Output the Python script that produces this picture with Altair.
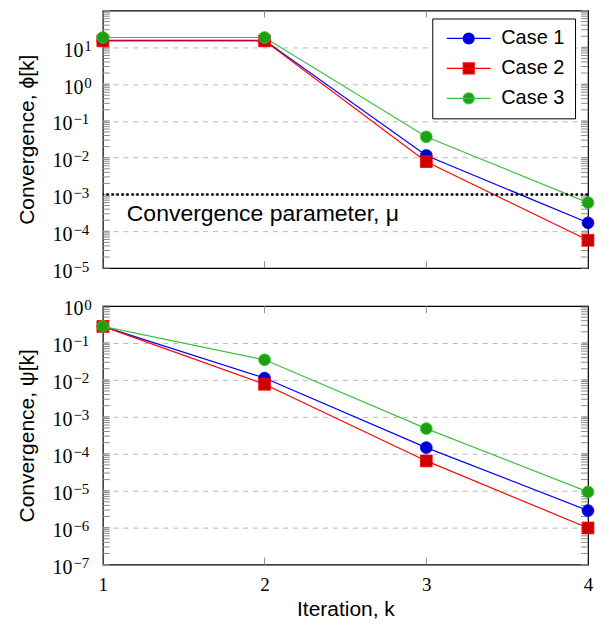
import json
import altair as alt
import pandas as pd

# ---------------- data ----------------
iterations = [1, 2, 3, 4]
cases = ["Case 1", "Case 2", "Case 3"]

phi_case1 = [15.5, 15.5, 1.15e-2, 1.7e-4]
phi_case2 = [15.0, 15.0, 7.8e-3, 5.7e-5]
phi_case3 = [18.5, 18.5, 3.7e-2, 6.0e-4]

psi_case1 = [0.28, 1.12e-2, 1.47e-4, 2.9e-6]
psi_case2 = [0.28, 7.6e-3, 6.4e-5, 9.8e-7]
psi_case3 = [0.28, 3.5e-2, 4.8e-4, 9.3e-6]

mu = [1e-3]
mu_label = ["Convergence parameter, μ"]
mu_label_y = [3e-4]

x_tick_labels = [1, 2, 3, 4]
x_inner_ticks = [2, 3]
phi_exponents = [-5, -4, -3, -2, -1, 0, 1]
psi_exponents = [-7, -6, -5, -4, -3, -2, -1, 0]

# ---------------- style ----------------
line_colors = ["#0000ff", "#ff0000", "#3cc03c"]
marker_colors = ["#0000cc", "#cc0000", "#1fa010"]
marker_shapes = ["circle", "square", "circle"]
legend_shapes = [
    "M-1,0H7M2,0A1,1,0,1,0,4,0A1,1,0,1,0,2,0Z",
    "M-1,0H7M2,-1H4V1H2Z",
    "M-1,0H7M2,0A1,1,0,1,0,4,0A1,1,0,1,0,2,0Z",
]

W = 486
H1 = 258
H2 = 259

all_exps = list(range(-7, 3))
exp_list = [str(e).replace("-", "\u2212") for e in all_exps]
exp_expr = json.dumps(exp_list, ensure_ascii=False) + "[round(log(datum.value)/LN10)+7]"


def long_df(series):
    rows = []
    for case, vals in zip(cases, series):
        for k, v in zip(iterations, vals):
            rows.append({"k": k, "v": v, "case": case})
    return pd.DataFrame(rows)


def minor_ticks(lo, hi):
    vals = []
    for e in range(lo, hi):
        for m in range(1, 10):
            vals.append(m * 10.0 ** e)
    vals.append(10.0 ** hi)
    return vals


def panel(series, lo, hi, label_exps, y_title, height, bottom_axis, with_legend, with_mu):
    df = long_df(series)
    x_scale = alt.Scale(domain=[1, 4], nice=False, zero=False)
    y_scale = alt.Scale(type="log", domain=[10.0 ** lo, 10.0 ** hi], nice=False)
    tick_values = [10.0 ** e for e in label_exps]

    if bottom_axis:
        x_axis = alt.Axis(
            values=x_tick_labels, format="d", labelFont="Liberation Serif",
            labelFontSize=19, labelColor="black", labelPadding=11, labelFlush=False,
            ticks=False, domain=False, grid=False, title="Iteration, k",
            titleFont="Liberation Sans", titleFontSize=21, titleFontWeight="normal",
            titleColor="black", titlePadding=4,
        )
    else:
        x_axis = None

    base_axis = alt.Axis(
        orient="left", values=tick_values, labelExpr="'10'",
        labelFont="Liberation Serif", labelFontSize=20, labelColor="black",
        labelAlign="right", labelBaseline="alphabetic", labelOffset=9,
        labelPadding={"condition": {"test": "datum.value < 0.5", "value": 31}, "value": 20},
        ticks=False, domain=False, grid=True,
        gridColor="#b8b8b8", gridDash=[5, 5], gridWidth=1,
        gridOpacity={"condition": {"test": f"datum.value < {10.0 ** lo * 1.01} || datum.value > {10.0 ** hi * 0.99}", "value": 0}, "value": 1},
        title=y_title, titleFont="Liberation Sans", titleFontSize=21,
        titleFontWeight="normal", titleColor="black", titlePadding=14,
    )
    exp_axis = alt.Axis(
        orient="left", values=tick_values, labelExpr=exp_expr,
        labelFont="Liberation Serif", labelFontSize=15, labelColor="black",
        labelAlign="left", labelBaseline="alphabetic", labelOffset=3,
        labelPadding={"condition": {"test": "datum.value < 0.5", "value": 30}, "value": 19},
        ticks=False, domain=False, grid=False, title=None,
    )

    def X(field):
        return alt.X(field, scale=x_scale, axis=x_axis, title=None if x_axis is None else "Iteration, k")

    def Y(field, axis=None, title=None):
        return alt.Y(field, scale=y_scale, axis=axis, title=title)

    lines = alt.Chart(df).mark_line(strokeWidth=1.2).encode(
        x=X("k:Q"), y=Y("v:Q", base_axis, y_title),
        stroke=alt.Stroke("case:N", scale=alt.Scale(domain=cases, range=line_colors), legend=None),
    )

    tick_df = pd.DataFrame({"t": minor_ticks(lo, hi)})
    ytick_l = alt.Chart(tick_df).mark_rule(color="#8a8a8a", strokeWidth=1).encode(
        y=Y("t:Q"), x=alt.value(0), x2=alt.value(7))
    ytick_r = alt.Chart(tick_df).mark_rule(color="#8a8a8a", strokeWidth=1).encode(
        y=Y("t:Q"), x=alt.value(W - 7), x2=alt.value(W))
    xt_df = pd.DataFrame({"kk": x_inner_ticks})
    xtick_t = alt.Chart(xt_df).mark_rule(color="#8a8a8a", strokeWidth=1).encode(
        x=X("kk:Q"), y=alt.value(0), y2=alt.value(7))
    xtick_b = alt.Chart(xt_df).mark_rule(color="#8a8a8a", strokeWidth=1).encode(
        x=X("kk:Q"), y=alt.value(height - 7), y2=alt.value(height))

    points = alt.Chart(df).mark_point(filled=True, size=140, opacity=1, strokeWidth=0.8).encode(
        x=X("k:Q"), y=Y("v:Q", exp_axis, None),
        fill=alt.Fill("case:N", scale=alt.Scale(domain=cases, range=marker_colors), legend=None),
        stroke=alt.Stroke("case:N", scale=alt.Scale(domain=cases, range=line_colors), legend=None),
        shape=alt.Shape("case:N", scale=alt.Scale(domain=cases, range=marker_shapes), legend=None),
    )

    layers = [lines, ytick_l, ytick_r, xtick_t, xtick_b, points]

    if with_mu:
        mu_df = pd.DataFrame({"mu": mu})
        rule = alt.Chart(mu_df).mark_rule(color="black", strokeWidth=2.5, strokeDash=[2.5, 2.5]).encode(
            y=Y("mu:Q"))
        txt_df = pd.DataFrame({"y": mu_label_y, "label": mu_label})
        txt = alt.Chart(txt_df).mark_text(
            align="left", baseline="middle", font="Liberation Sans", fontSize=23, color="black"
        ).encode(x=alt.value(24), y=Y("y:Q"), text="label:N")
        layers += [rule, txt]

    if with_legend:
        leg = alt.Legend(
            title=None, orient="none", legendX=W - 156, legendY=8, fillColor="white",
            strokeColor="black", padding=10, labelFont="Liberation Sans",
            labelFontSize=20, labelColor="black", labelOffset=39, rowPadding=10,
            symbolSize=121, symbolStrokeWidth=1.2, symbolOpacity=1,
        )
        legend_layer = alt.Chart(df).transform_filter("datum.v < 0").mark_point(
            filled=True, size=121, strokeWidth=1.2, opacity=1
        ).encode(
            x=X("k:Q"), y=Y("v:Q"),
            fill=alt.Fill("case:N", scale=alt.Scale(domain=cases, range=marker_colors), legend=leg),
            stroke=alt.Stroke("case:N", scale=alt.Scale(domain=cases, range=line_colors), legend=leg),
            shape=alt.Shape("case:N", scale=alt.Scale(domain=cases, range=legend_shapes), legend=leg),
        )
        layers.append(legend_layer)

    return alt.layer(*layers).resolve_scale(
        fill="independent", stroke="independent", shape="independent"
    ).resolve_axis(y="independent").properties(width=W, height=height)


top = panel([phi_case1, phi_case2, phi_case3], -5, 2, phi_exponents,
            "Convergence, ϕ[k]", H1, False, True, True)
bottom = panel([psi_case1, psi_case2, psi_case3], -7, 0, psi_exponents,
               "Convergence, ψ[k]", H2, True, False, False)

chart = alt.vconcat(top, bottom, spacing=38, bounds="flush").properties(
    padding={"left": 8, "top": 0, "right": 0, "bottom": 0}
).configure_view(stroke="black", strokeWidth=1.2)

chart.save("out.html", embed_options={"renderer": "svg", "actions": False})
